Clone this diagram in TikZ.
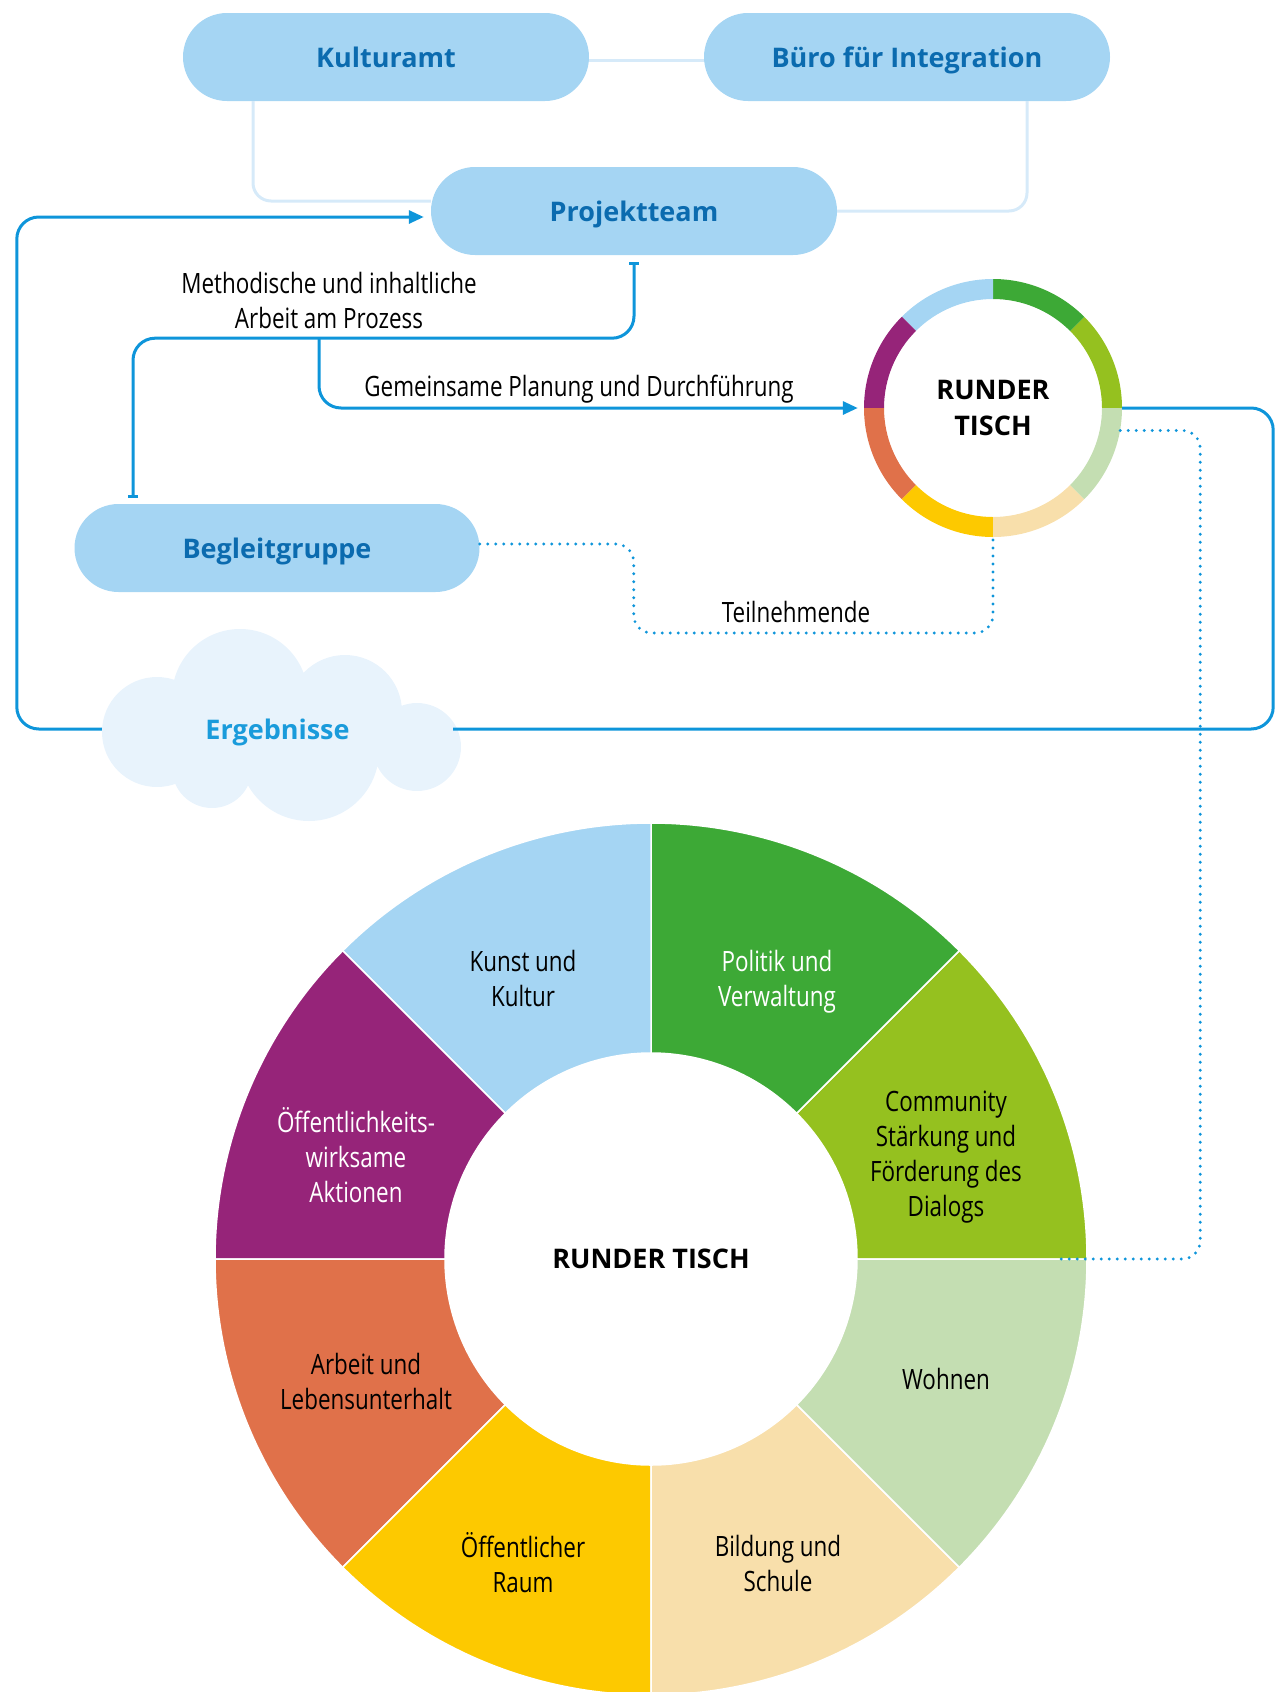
\documentclass[tikz,border=0pt]{standalone}
\usepackage{fontspec}
\setmainfont{Open Sans}
\newfontfamily\condfont[FakeStretch=0.8]{Open Sans}
\usetikzlibrary{arrows.meta, calc}

\definecolor{boxblue}{HTML}{A5D5F3}
\definecolor{boxtext}{HTML}{0B6BAF}
\definecolor{flowblue}{HTML}{0E95DA}
\definecolor{softblue}{HTML}{D6EAF9}
\definecolor{cloudblue}{HTML}{E8F3FC}
\definecolor{cloudtext}{HTML}{1A9BDB}
\definecolor{rtlblue}{HTML}{A5D5F3}
\definecolor{rtgreen}{HTML}{3DA936}
\definecolor{rtlime}{HTML}{95C11F}
\definecolor{rtsage}{HTML}{C4DEB2}
\definecolor{rtsand}{HTML}{F8DFAB}
\definecolor{rtyellow}{HTML}{FDC900}
\definecolor{rtorange}{HTML}{E0714A}
\definecolor{rtpurple}{HTML}{962479}

\tikzset{
  pill/.style={fill=boxblue, text=boxtext, rounded corners=44, minimum width=406, minimum height=88, inner sep=0, text height=20pt, text depth=0pt, font=\bfseries\fontsize{27}{32}\selectfont},
  flow/.style={color=flowblue, line width=3pt, rounded corners=22},
  soft/.style={color=softblue, line width=3pt, rounded corners=18},
  dotline/.style={color=flowblue, line width=3.2pt, line cap=round, dash pattern=on 0pt off 8pt, rounded corners=18},
  lbl/.style={font=\condfont\fontsize{28}{35}\selectfont, align=center},
  flowtip/.style={-{Triangle[length=15pt, width=13pt]}}
}

\begin{document}
\begin{tikzpicture}[x=1pt, y=-1pt]
	\useasboundingbox (0,0) rectangle (1275,1692);
	
	\node[pill] (kultur) at (386,57) {Kulturamt};
	\node[pill] (buero) at (907,57) {Büro für Integration};
	\node[pill] (team) at (634,211) {Projektteam};
	\node[pill, minimum width=405] (begleit) at (277,548) {Begleitgruppe};
	\node[circle, minimum size=258, align=center, font=\bfseries\fontsize{27}{36}\selectfont] (tisch) at (993,408) {RUNDER\\TISCH};
	\node[circle, minimum size=872, font=\bfseries\fontsize{27}{32}\selectfont] (rad) at (651,1259) {RUNDER TISCH};
	
	\foreach \a/\col in {0/rtlime, 45/rtgreen, 90/rtlblue, 135/rtpurple, 180/rtorange, 225/rtyellow, 270/rtsand, 315/rtsage}{
		\fill[\col] ($(tisch.center)+(-\a:129)$) arc[start angle=-\a, end angle=-\a-45, radius=129] -- ($(tisch.center)+(-\a-45:109)$) arc[start angle=-\a-45, end angle=-\a, radius=109] -- cycle;
		\filldraw[fill=\col, draw=white, line width=1.5pt] ($(rad.center)+(-\a:436)$) arc[start angle=-\a, end angle=-\a-45, radius=436] -- ($(rad.center)+(-\a-45:206)$) arc[start angle=-\a-45, end angle=-\a, radius=206] -- cycle;
	}
	
	\node[lbl] (kunst) at (523,978) {Kunst und\\Kultur};
	\node[lbl, text=white] (politik) at (777,982) {Politik und\\Verwaltung};
	\node[lbl] (commun) at (946,1157) {Community\\Stärkung und\\Förderung des\\Dialogs};
	\node[lbl, text=white] (aktion) at (356,1155) {Öffentlichkeits-\\wirksame\\Aktionen};
	\node[lbl] (wohnen) at (946,1379) {Wohnen};
	\node[lbl] (arbeit) at (366,1381) {Arbeit und\\Lebensunterhalt};
	\node[lbl] (raum) at (523,1563) {Öffentlicher\\Raum};
	\node[lbl] (bildung) at (778,1563) {Bildung und\\Schule};
	
	\fill[cloudblue] (157,732) circle[radius=55] (240,697) circle[radius=68] (345,712) circle[radius=57]
		(417,747) circle[radius=44] (309,751) circle[radius=70] (212,768) circle[radius=40];
	\node[font=\bfseries\fontsize{27}{32}\selectfont, text=cloudtext, minimum width=351, inner sep=0, text height=20pt, text depth=0pt] (ergeb) at (277.5,729) {Ergebnisse};
	
	\draw[soft] ([yshift=-3pt]kultur.east) -- ([yshift=-3pt]buero.west);
	\draw[soft] ([xshift=-133pt]kultur.south) |- ([yshift=10pt]team.west);
	\draw[soft] ([xshift=120pt]buero.south) |- (team.east);
	
	\draw[flow] (tisch.east) -- ++(151,0) |- (ergeb.east);
	\draw[flow, flowtip, shorten >=7pt] (ergeb.west) -- ++(-85,0) |- ([yshift=-6pt]team.west);
	
	\draw[flow, {Bar[width=10pt]}-{Bar[width=10pt]}] ([yshift=-7pt]team.south) -- ++(0,76) -| ([xshift=-144pt, yshift=6pt]begleit.north);
	\coordinate (split) at (319,338);
	\draw[flow, flowtip, shorten >=6pt] (split) |- (tisch.west);
	
	\node[lbl] (method) at (329,300) {Methodische und inhaltliche\\Arbeit am Prozess};
	\node[lbl] (planung) at (579,389) {Gemeinsame Planung und Durchführung};
	\node[lbl] (teiln) at (796,612) {Teilnehmende};
	
	\draw[dotline] ([yshift=4pt]begleit.east) -- ++(154,0) -- ++(0,89) -| (tisch.south);
	\draw[dotline] (tisch.-10) -- ++(80,0) |- ([xshift=-29pt]rad.east);
\end{tikzpicture}
\end{document}
